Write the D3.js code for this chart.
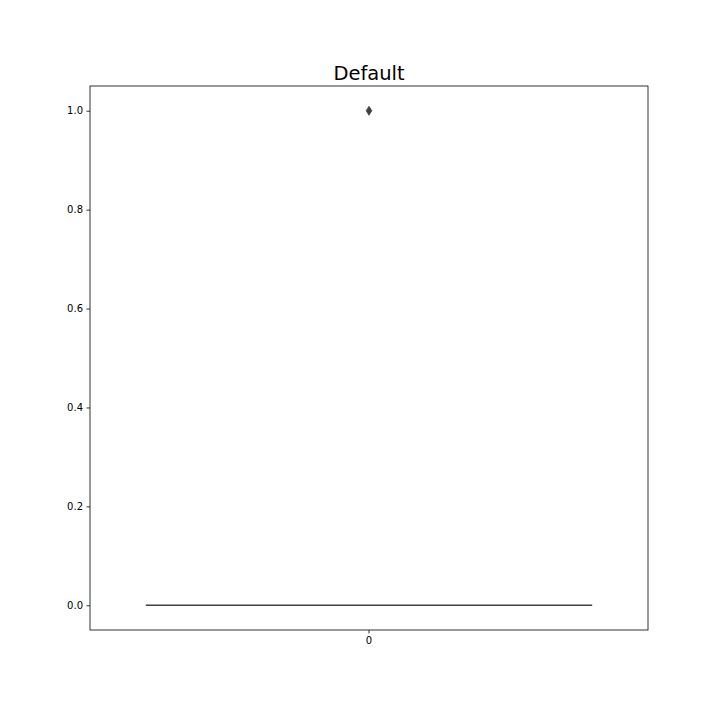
<!DOCTYPE html>
<html><head><meta charset="utf-8">
<script src="https://cdn.jsdelivr.net/npm/d3@7"></script>
<style>body{margin:0;background:#fff}svg{display:block}text{font-family:"DejaVu Sans",sans-serif}</style>
</head><body>
<script>
const categories = ["0"];
const q1 = [0], median = [0], q3 = [0], whiskerLow = [0], whiskerHigh = [0];
const outliers = [[1]];
const yTicks = [0, 0.2, 0.4, 0.6, 0.8, 1.0];
const title = "Default";

const W = 720, H = 720;
const m = {left: 90, right: 72, top: 86, bottom: 90};
const svg = d3.select("body").append("svg").attr("width", W).attr("height", H);
const x = d3.scaleBand().domain(categories).range([m.left, W - m.right]).paddingInner(0).paddingOuter(0);
const y = d3.scaleLinear().domain([-0.05, 1.05]).range([H - m.bottom, m.top]);
const grey = "#3f3f3f";

categories.forEach((c, i) => {
  const bw = x.bandwidth() * 0.8;
  const x0 = x(c) + x.bandwidth() * 0.1, cx = x(c) + x.bandwidth() / 2;
  svg.append("rect").attr("x", x0).attr("width", bw)
    .attr("y", y(q3[i])).attr("height", Math.max(0, y(q1[i]) - y(q3[i])))
    .attr("fill", "#3274a1").attr("stroke", grey).attr("stroke-width", 1.5);
  svg.append("line").attr("x1", cx).attr("x2", cx).attr("y1", y(whiskerHigh[i])).attr("y2", y(q3[i])).attr("stroke", grey).attr("stroke-width", 1.5);
  svg.append("line").attr("x1", cx).attr("x2", cx).attr("y1", y(q1[i])).attr("y2", y(whiskerLow[i])).attr("stroke", grey).attr("stroke-width", 1.5);
  svg.append("line").attr("x1", x0).attr("x2", x0 + bw).attr("y1", y(median[i])).attr("y2", y(median[i])).attr("stroke", grey).attr("stroke-width", 1.6);
  outliers[i].forEach(v => {
    svg.append("path").attr("d", "M0,-4.5L2.8,0L0,4.5L-2.8,0Z")
      .attr("transform", `translate(${cx},${y(v)})`).attr("fill", grey).attr("stroke", grey).attr("stroke-width", 0.8);
  });
});

const yAxis = svg.append("g").attr("transform", `translate(${m.left},0)`)
  .call(d3.axisLeft(y).tickValues(yTicks).tickFormat(d3.format(".1f")).tickSize(3.5).tickPadding(3.5));
const xAxis = svg.append("g").attr("transform", `translate(0,${H - m.bottom})`)
  .call(d3.axisBottom(x).tickSize(3.5).tickPadding(3.5));
[yAxis, xAxis].forEach(g => {
  g.select(".domain").remove();
  g.selectAll("text").attr("font-size", 10).attr("fill", "#000").attr("font-family", "DejaVu Sans");
  g.selectAll("line").attr("stroke", "#000").attr("stroke-width", 0.8);
});
svg.append("rect").attr("x", m.left).attr("y", m.top).attr("width", W - m.left - m.right).attr("height", H - m.top - m.bottom)
  .attr("fill", "none").attr("stroke", "#000").attr("stroke-width", 0.8);
svg.append("text").attr("x", (m.left + W - m.right) / 2).attr("y", 80).attr("text-anchor", "middle")
  .attr("font-size", 19.5).attr("fill", "#000").text(title);
</script>
</body></html>
